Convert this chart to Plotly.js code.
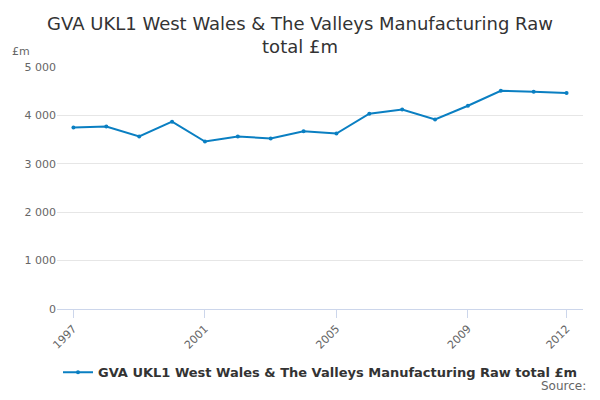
<!DOCTYPE html>
<html><head><meta charset="utf-8">
<script src="https://cdn.plot.ly/plotly-3.0.1.min.js"></script>
<style>body{margin:0}#chart{width:600px;height:400px}</style>
</head><body><div id="chart"></div>
<script>
var years = [1997,1998,1999,2000,2001,2002,2003,2004,2005,2006,2007,2008,2009,2010,2011,2012];
var values = [3750,3770,3565,3870,3460,3565,3525,3670,3625,4035,4120,3915,4200,4510,4490,4465];
var tickYears = [1997,2001,2005,2009,2012];
var seriesName = "<b>GVA UKL1 West Wales & The Valleys Manufacturing Raw total £m</b>";

var trace = {
    x: years, y: values, type: "scatter", mode: "lines+markers",
    name: seriesName,
    line: {color: "#0a7fc2", width: 2},
    marker: {color: "#0a7fc2", size: 4}
};
var layout = {
    width: 600, height: 400,
    margin: {l: 57, r: 17, t: 67, b: 89},
    font: {family: "DejaVu Sans", color: "#555"},
    title: {text: "GVA UKL1 West Wales & The Valleys Manufacturing Raw<br>total £m",
            font: {size: 18, color: "#333"}, x: 0.5, yref: "container", y: 0.925, yanchor: "middle"},
    xaxis: {range: [1996.5, 2012.5], tickvals: tickYears, tickangle: -45,
            showgrid: false, showline: true, linecolor: "#ccd6eb",
            ticks: "outside", tickcolor: "#ccd6eb", ticklen: 8, tickfont: {size: 11, color: "#666"}},
    yaxis: {range: [0, 5000], tickvals: [0,1000,2000,3000,4000,5000],
            ticktext: ["0","1 000","2 000","3 000","4 000","5 000"],
            gridcolor: "#e6e6e6", zeroline: false, tickfont: {size: 11, color: "#666"}},
    showlegend: true,
    legend: {orientation: "h", x: 0.5, xanchor: "center", y: -0.2, yanchor: "top",
             font: {size: 13, color: "#333"}},
    annotations: [
        {text: "£m", xref: "paper", yref: "paper", x: -0.09, y: 1.03, xanchor: "left",
         yanchor: "bottom", showarrow: false, font: {size: 11, color: "#666"}},
        {text: "Source:", xref: "paper", yref: "paper", x: 1.01, y: -0.28, xanchor: "right",
         yanchor: "top", showarrow: false, font: {size: 12, color: "#666"}}
    ],
    plot_bgcolor: "#fff", paper_bgcolor: "#fff"
};
Plotly.newPlot("chart", [trace], layout, {displayModeBar: false});
</script></body></html>
